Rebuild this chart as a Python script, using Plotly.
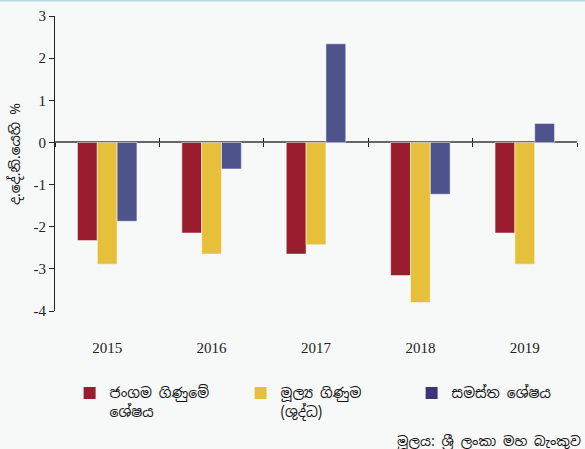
import plotly.graph_objects as go

years = ["2015", "2016", "2017", "2018", "2019"]
current_account = [-2.33, -2.15, -2.65, -3.16, -2.15]
financial_account = [-2.89, -2.65, -2.43, -3.80, -2.89]
overall_balance = [-1.87, -0.63, 2.34, -1.23, 0.45]

series_names = ["ජංගම ගිණුමේ<br>ශේෂය", "මූල්‍ය ගිණුම<br>(ශුද්ධ)", "සමස්ත ශේෂය"]
bar_colors = ["#991d2e", "#e6c03b", "#4e538c"]
legend_colors = ["#991d2e", "#e6c03b", "#3b3478"]

y_tick_vals = [-4, -3, -2, -1, 0, 1, 2, 3]
y_tick_text = ["-4", "-3", "-2", "-1", "0", "1", "2", "3"]

y_title = "ද.දේ.නි.යෙහි %"
source_text = "මූලය: ශ්‍රී ලංකා මහ බැංකුව"

sinhala_font = "Noto Sans Sinhala, Noto Serif Sinhala, Iskoola Pota, Noto Sans, sans-serif"
serif_font = "Liberation Serif, Times New Roman, serif"

fig = go.Figure()
for name, vals, col in zip(series_names, [current_account, financial_account, overall_balance], bar_colors):
    fig.add_trace(go.Bar(x=years, y=vals, name=name, showlegend=False,
                         marker=dict(color=col, line=dict(color="rgba(255,255,255,0.5)", width=1))))
for name, col in zip(series_names, legend_colors):
    fig.add_trace(go.Bar(x=[years[0]], y=[None], name=name, xaxis="x2", yaxis="y2",
                         marker=dict(color=col, line=dict(width=0))))
fig.add_trace(go.Bar(x=[years[0]], y=[None], showlegend=False, xaxis="x3", yaxis="y2",
                     hoverinfo="skip"))

tick_axis = dict(overlaying="x", matches="x", anchor="free", position=4/7, showline=False,
                 showgrid=False, zeroline=False, showticklabels=False,
                 tickson="boundaries", ticklen=4, tickcolor="#222", tickwidth=1)

fig.update_layout(
    width=585, height=449,
    margin=dict(l=55, r=8, t=16, b=138, autoexpand=False),
    paper_bgcolor="#f7f9f9", plot_bgcolor="#f7f9f9",
    barmode="group", bargap=0.43, bargroupgap=0,
    font=dict(family=serif_font, size=15, color="#222"),
    xaxis=dict(showline=False, ticks="", showgrid=False, zeroline=False,
               tickfont=dict(family=serif_font, size=15, color="#222"),
               ticklabelstandoff=26),
    xaxis2=dict(tick_axis, ticks="outside"),
    xaxis3=dict(tick_axis, ticks="inside"),
    yaxis=dict(range=[-4, 3], tickvals=y_tick_vals, ticktext=y_tick_text,
               showline=True, linecolor="#222", linewidth=1, ticks="outside", ticklen=5,
               tickcolor="#222", showgrid=False, zeroline=True, zerolinecolor="#666",
               zerolinewidth=1.5,
               tickfont=dict(family=serif_font, size=15, color="#222")),
    yaxis2=dict(overlaying="y", range=[-4, 3], visible=False),
    legend=dict(orientation="h", x=0.028, xanchor="left", y=-0.225, yanchor="top",
                entrywidth=126, entrywidthmode="pixels", bgcolor="rgba(0,0,0,0)",
                font=dict(family=sinhala_font, size=14, color="#111"), valign="top"),
    shapes=[dict(type="line", xref="paper", yref="paper", x0=-0.2, x1=1.1, y0=1.0 + 16/295,
                 y1=1.0 + 16/295, line=dict(color="#b9dbe6", width=3))],
    annotations=[
        dict(text=y_title, xref="paper", yref="paper", x=-0.0766, xanchor="center",
             y=0.532, yanchor="middle", textangle=-90, showarrow=False,
             font=dict(family=sinhala_font, size=14, color="#111")),
        dict(text=source_text, xref="paper", yref="paper", x=1.0115, xanchor="right",
             y=-0.44, yanchor="middle", showarrow=False,
             font=dict(family=sinhala_font, size=13.5, color="#111")),
    ],
)

fig.write_html("out.html", config={"displayModeBar": False},
               post_script="document.body.style.margin='0px';")
